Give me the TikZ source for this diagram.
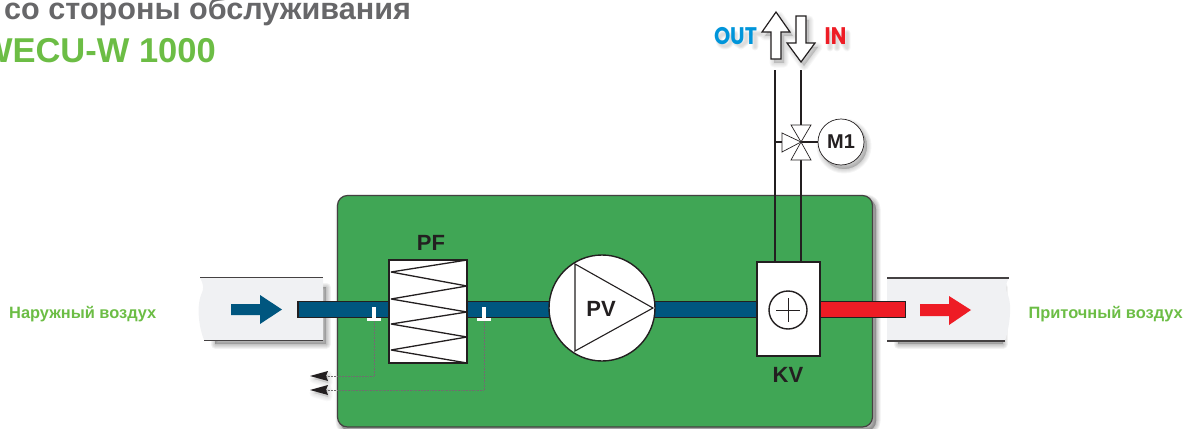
\documentclass[tikz,border=0pt]{standalone}
\usepackage{fontspec}
\setmainfont{Liberation Sans}
\newfontfamily\geofont{Poppins}
\usetikzlibrary{calc}
\definecolor{boxgreen}{HTML}{40A655}
\definecolor{pipeblue}{HTML}{00567F}
\definecolor{pipered}{HTML}{EE1C25}
\definecolor{ductgrey}{HTML}{F0F1F3}
\definecolor{inkdark}{HTML}{231F20}
\definecolor{titlegrey}{HTML}{676769}
\definecolor{titlegreen}{HTML}{6CBD45}
\definecolor{outblue}{HTML}{0095DA}
\newcommand{\softshadow}[3][3,4]{\begin{scope}[shift={(#1)}]
  \foreach \w in {9,7,5,3,1}{\fill[black,fill opacity=#2,draw=black,draw opacity=#2,line width=\w pt,line join=round] #3;}
\end{scope}}
\newcommand{\strokeshadow}[1]{\begin{scope}[shift={(3,4)}]
  \foreach \w in {7,5.5,4,2.5}{\draw[black,draw opacity=.035,line width=\w pt,line join=round,line cap=round] #1;}
\end{scope}}
\tikzset{
  outline/.style={draw=inkdark,fill=white,line width=1.4pt,inner sep=0pt,outer sep=0pt},
  lab/.style={font=\fontsize{22}{22}\selectfont\bfseries,text=inkdark,inner sep=0pt},
  airlabel/.style={font=\fontsize{16.4}{17}\selectfont\bfseries,text=titlegreen,inner sep=0pt},
  geolabel/.style={inner sep=0pt,font=\geofont\fontsize{24}{24}\selectfont\bfseries,xscale=.86,transform shape},
  pipeline/.style={draw=inkdark,line width=1.5pt},
  signal/.style={draw=inkdark!65,line width=.55pt,densely dotted},
  bigarrow/.style={draw=inkdark,fill=white,line width=1.2pt,line join=miter},
  thin tri/.style={draw=inkdark,fill=white,line width=.7pt,line join=miter},
}
\begin{document}
\begin{tikzpicture}[x=1pt,y=-1pt]
\useasboundingbox (0,0) rectangle (1185,428);
% titles
\node[anchor=base west,inner sep=0pt,text=titlegrey,font=\fontsize{30.6}{30}\selectfont\bfseries] (title) at (4,20) {со стороны обслуживания};
\node[anchor=base east,inner sep=0pt,text=titlegreen,font=\fontsize{34.5}{34}\selectfont\bfseries] (model) at (216,63) {WECU-W 1000};
% shadows
\softshadow{.06}{(337,195) [rounded corners=10pt] -- (873,195) -- (873,427) -- (337,427) -- cycle}
% green box
\draw[fill=boxgreen,draw=inkdark!85,line width=1.2pt,rounded corners=10pt] (337.5,195.5) rectangle (872.5,427);
% ducts
\softshadow[3,5]{.05}{(212,282) -- (323,282) -- (323,339) -- (212,339) -- cycle}
\softshadow[3,5]{.05}{(895,282) -- (1000,282) -- (1000,339) -- (895,339) -- cycle}
\fill[ductgrey] (200,278) .. controls (204,285) and (204,289) .. (201,295) .. controls (197,305) and (198,325) .. (204,340) -- (323,340) -- (323,278) -- cycle;
\fill[ductgrey] (887,278) -- (1009,278) .. controls (1005,285) and (1005,289) .. (1008,295) .. controls (1012,305) and (1010,325) .. (1005,341) -- (887,341) -- cycle;
\draw[inkdark!85,line width=1.1pt] (200,277.5) -- (323,277.5) (204,340.5) -- (323,340.5);
\draw[inkdark!85,line width=1.1pt] (887,278) -- (1009,278) (887,341) -- (1005,341);
% flow arrows
\fill[pipeblue] (231,304) -- (260,304) -- (260,295) -- (282,309.5) -- (260,324) -- (260,315) -- (231,315) -- cycle;
\fill[pipered] (920,304) -- (949,304) -- (949,296) -- (971,310) -- (949,325) -- (949,316) -- (920,316) -- cycle;
% equipment anchors
\coordinate (inlet) at (297,309.5);
\coordinate (outlet) at (906,309.5);
\node[minimum width=63pt,minimum height=94pt,inner sep=0pt,outer sep=0pt] (kvframe) at (788.5,309) {};
% pipes
\draw[inkdark,line width=17.5pt] (inlet) -- (inlet -| kvframe.west);
\draw[pipeblue,line width=14.5pt] ($(inlet)+(1.5,0)$) -- (inlet -| kvframe.west);
\draw[inkdark,line width=17.5pt] (inlet -| kvframe.east) -- (outlet);
\draw[pipered,line width=14.5pt] (inlet -| kvframe.east) -- ($(outlet)+(-1.5,0)$);
% equipment
\node[outline,minimum width=78pt,minimum height=103pt] (filter) at (428,311.5) {};
\draw[inkdark,line width=1.3pt,line join=bevel] (467,260) -- (391,272) -- (467,286) -- (391,299) -- (467,312) -- (391,324) -- (467,337) -- (391,350) -- (467,363);
\node[outline,circle,minimum size=106pt] (pv) at (602,308) {};
\draw[inkdark,line width=1.1pt,line join=miter] (575,264) -- (653,308) -- (575,351) -- cycle;
\node[outline,minimum width=63pt,minimum height=94pt] (kv) at (788.5,309) {};
\node[outline,circle,fill=none,minimum size=38pt] (hx) at (788,310) {};
\draw[inkdark,line width=1pt] (hx.west) ++(7,0) -- ++(24,0) (hx.north) ++(0,7) -- ++(0,24);
% sensors
\foreach \n/\x in {s1/374,s2/484}{
  \fill[white] (\x-2,307) rectangle (\x+2,319);
  \fill[white] (\x-7,318) rectangle (\x+7,321);
  \coordinate (\n) at (\x,321);
}
% signal lines
\coordinate (e1) at (326,376);
\coordinate (e2) at (326,390);
\softshadow[2,3]{.025}{(312,376) -- (326,372) -- (326,380) -- cycle}
\softshadow[2,3]{.025}{(312,390) -- (326,386) -- (326,394) -- cycle}
\draw[signal] (s1) |- (e1);
\draw[signal] (s2) |- (e2);
\fill[inkdark] (310,376) -- (328,371) -- (326,376) -- (328,381) -- cycle;
\fill[inkdark] (310,390) -- (328,385) -- (326,390) -- (328,395) -- cycle;
% labels
\node[lab] (pflabel) at (431,243) {PF};
\node[lab] (pvlabel) at (601,309) {PV};
\node[lab] (kvlabel) at (788,375) {KV};
\node[airlabel,anchor=base west] (airin) at (9,318) {Наружный воздух};
\node[airlabel,anchor=base east] (airout) at (1183,318) {Приточный воздух};
% top pipes
\coordinate (ret) at (775,70);
\coordinate (sup) at (801,70);
\coordinate (valve) at (801,142);
\draw[pipeline] (ret) -- (ret |- kv.north);
\draw[pipeline] (sup) -- (sup |- kv.north);
% valve and motor
\softshadow[3,4]{.04}{(841,142) circle (23pt)}
\draw[pipeline] (valve) -- (841,142);
\draw[pipeline] (valve -| ret) -- (782,142);
\draw[thin tri] (791,125) -- (811,125) -- (valve) -- cycle;
\draw[thin tri] (791,160) -- (811,160) -- (valve) -- cycle;
\draw[thin tri] (782,133) -- (782,152) -- (valve) -- cycle;
\node[draw=inkdark,fill=white,line width=.7pt,circle,minimum size=46pt,inner sep=0pt] (m1) at (841,142) {};
\node[lab,font=\fontsize{20}{20}\selectfont\bfseries] (m1label) at (m1) {M1};
% in/out arrows
\softshadow[3,4]{.03}{(776,12) -- (790,32) -- (781,32) -- (781,59) -- (771,59) -- (771,32) -- (762,32) -- cycle}
\softshadow[3,4]{.03}{(796,16) -- (806,16) -- (806,43) -- (815,43) -- (801,62) -- (787,43) -- (796,43) -- cycle}
\draw[bigarrow] (776,12) -- (790,32) -- (781,32) -- (781,59) -- (771,59) -- (771,32) -- (762,32) -- cycle;
\draw[bigarrow] (796,16) -- (806,16) -- (806,43) -- (815,43) -- (801,62) -- (787,43) -- (796,43) -- cycle;
% OUT / IN
\strokeshadow{(722,36) circle (6pt) (732,30) -- (732,38) -- (738,42) -- (743,38) -- (743,30) (747,30) -- (757,30) (752,30) -- (752,43)}
\strokeshadow{(827,29) -- (827,44) (834,44) -- (834,29) -- (844,44) -- (844,29)}
\node[geolabel,text=outblue] (outlab) at (735.5,36) {OUT};
\node[geolabel,text=pipered] (inlab) at (835.5,36) {IN};
\end{tikzpicture}
\end{document}
